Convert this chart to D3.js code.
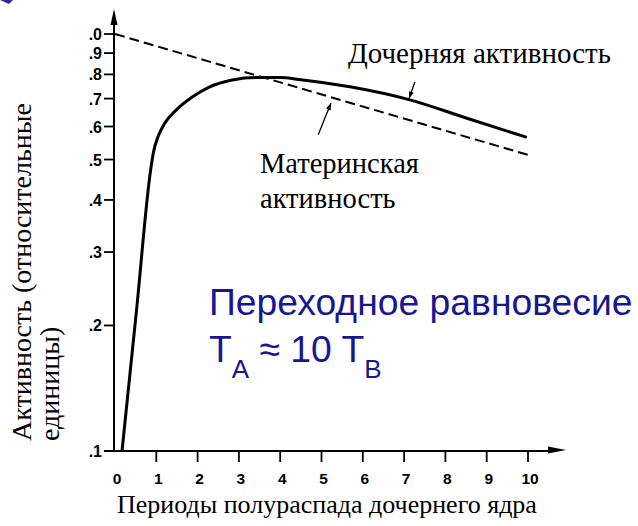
<!DOCTYPE html>
<html><head><meta charset="utf-8">
<script src="https://cdn.jsdelivr.net/npm/d3@7/dist/d3.min.js"></script>
<style>body{margin:0;background:#fff}svg{display:block}</style>
</head><body>
<script>
// ---- data ----
const xTicks = [0,1,2,3,4,5,6,7,8,9,10];
const yTicks = [1.0,0.9,0.8,0.7,0.6,0.5,0.4,0.3,0.2,0.1];
const yTickLabels = [".0",".9",".8",".7",".6",".5",".4",".3",".2",".1"];
const motherT = [0, 10];
const motherV = [1.0, 0.513];
const daughterT = [0.17,0.52,0.86,0.93,1.05,1.2,1.48,1.87,2.28,2.84,3.42,4.0,4.5,5.69,7.14,8.52,9.97];
const daughterV = [0.100,0.217,0.47,0.52,0.57,0.61,0.657,0.706,0.746,0.776,0.786,0.786,0.777,0.747,0.695,0.628,0.565];
const daughterLabel = "Дочерняя активность";
const motherLabel = ["Материнская","активность"];
const xTitle = "Периоды полураспада дочернего ядра";
const yTitle = ["Активность (относительные","единицы)"];
const noteLine1 = "Переходное равновесие";

const W=638,H=526;
const svg=d3.select("body").append("svg").attr("width",W).attr("height",H);
svg.append("rect").attr("width",W).attr("height",H).attr("fill","#fff");

const x=d3.scaleLinear().domain([0,10]).range([115,528]);
const y=d3.scaleLog().domain([0.1,1]).range([451,34]);

// small blue fragment in the corner
svg.append("path").attr("d","M0,0 L13,0 L9,4 Z").attr("fill","#2a2a9a");

// axes
const ax=svg.append("g").attr("stroke","#000").attr("fill","none");
ax.append("line").attr("x1",x(0)-1).attr("x2",x(0)-1).attr("y1",y(0.1)).attr("y2",22).attr("stroke-width",2);
ax.append("path").attr("d",`M${x(0)-1},9 L${x(0)-4.5},25 L${x(0)+2.5},25 Z`).attr("fill","#000").attr("stroke","none");
ax.append("line").attr("x1",104).attr("x2",552).attr("y1",y(0.1)).attr("y2",y(0.1)).attr("stroke-width",2);
ax.append("path").attr("d",`M566,${y(0.1)-1} L548,${y(0.1)-4.5} L548,${y(0.1)+2.5} Z`).attr("fill","#000").attr("stroke","none");

// y ticks
const yg=svg.append("g");
yTicks.forEach((v,i)=>{
  yg.append("line").attr("x1",x(0)-11).attr("x2",x(0)-1).attr("y1",y(v)).attr("y2",y(v)).attr("stroke","#000").attr("stroke-width",1.8);
  yg.append("text").attr("x",x(0)-13).attr("y",y(v)+6).attr("text-anchor","end")
    .attr("font-family","Liberation Sans, Arial, sans-serif").attr("font-weight","bold").attr("font-size",16).text(yTickLabels[i]);
});
// x ticks
const xg=svg.append("g");
xTicks.forEach(t=>{
  if(t>0) xg.append("line").attr("x1",x(t)).attr("x2",x(t)).attr("y1",y(0.1)).attr("y2",y(0.1)+11).attr("stroke","#000").attr("stroke-width",1.8);
  xg.append("text").attr("x",x(t)+2).attr("y",484).attr("text-anchor","middle")
    .attr("font-family","Liberation Sans, Arial, sans-serif").attr("font-weight","bold").attr("font-size",15.5).text(t);
});

// curves
const line=d3.line().x(d=>x(d[0])).y(d=>y(d[1]));
svg.append("path").datum(motherT.map((t,i)=>[t,motherV[i]])).attr("d",line)
  .attr("fill","none").attr("stroke","#000").attr("stroke-width",2).attr("stroke-dasharray","10,5");
svg.append("path").datum(daughterT.map((t,i)=>[t,daughterV[i]])).attr("d",line.curve(d3.curveMonotoneX))
  .attr("fill","none").attr("stroke","#000").attr("stroke-width",3);

// annotation pointers
function pointer(t1,v1,t2,v2){
  const x1=x(t1),y1=y(v1),x2=x(t2),y2=y(v2);
  svg.append("line").attr("x1",x1).attr("y1",y1).attr("x2",x2).attr("y2",y2).attr("stroke","#000").attr("stroke-width",1.3);
  const a=Math.atan2(y2-y1,x2-x1),L=7,w=2.5;
  const bx=x2-L*Math.cos(a),by=y2-L*Math.sin(a);
  svg.append("path").attr("d",`M${x2},${y2} L${bx+w*Math.sin(a)},${by-w*Math.cos(a)} L${bx-w*Math.sin(a)},${by+w*Math.cos(a)} Z`).attr("fill","#000");
}
pointer(7.26,0.767,7.12,0.70);
pointer(4.92,0.573,5.23,0.683);

const serif="Liberation Serif, Times New Roman, serif";
svg.append("text").attr("x",348).attr("y",63).attr("font-family",serif).attr("font-size",29).text(daughterLabel);
svg.append("text").attr("x",260).attr("y",173).attr("font-family",serif).attr("font-size",28.5).text(motherLabel[0]);
svg.append("text").attr("x",260).attr("y",208).attr("font-family",serif).attr("font-size",28.5).text(motherLabel[1]);
svg.append("text").attr("x",117).attr("y",513).attr("font-family",serif).attr("font-size",26).text(xTitle);
svg.append("text").attr("transform","translate(31,441) rotate(-90)").attr("font-family",serif).attr("font-size",28).text(yTitle[0]);
svg.append("text").attr("transform","translate(59,441) rotate(-90)").attr("font-family",serif).attr("font-size",28).text(yTitle[1]);

// blue note
const blue="#17178f", sans="Liberation Sans, Arial, sans-serif";
svg.append("text").attr("x",209).attr("y",315).attr("font-family",sans).attr("font-size",37.3).attr("fill",blue).text(noteLine1);
const t2=svg.append("text").attr("x",209).attr("y",362).attr("font-family",sans).attr("font-size",37.3).attr("fill",blue);
t2.append("tspan").text("T");
t2.append("tspan").attr("font-size",26).attr("dy",16).text("A");
t2.append("tspan").attr("dy",-16).text(" ≈ 10 T");
t2.append("tspan").attr("font-size",26).attr("dy",16).text("B");
</script>
</body></html>
